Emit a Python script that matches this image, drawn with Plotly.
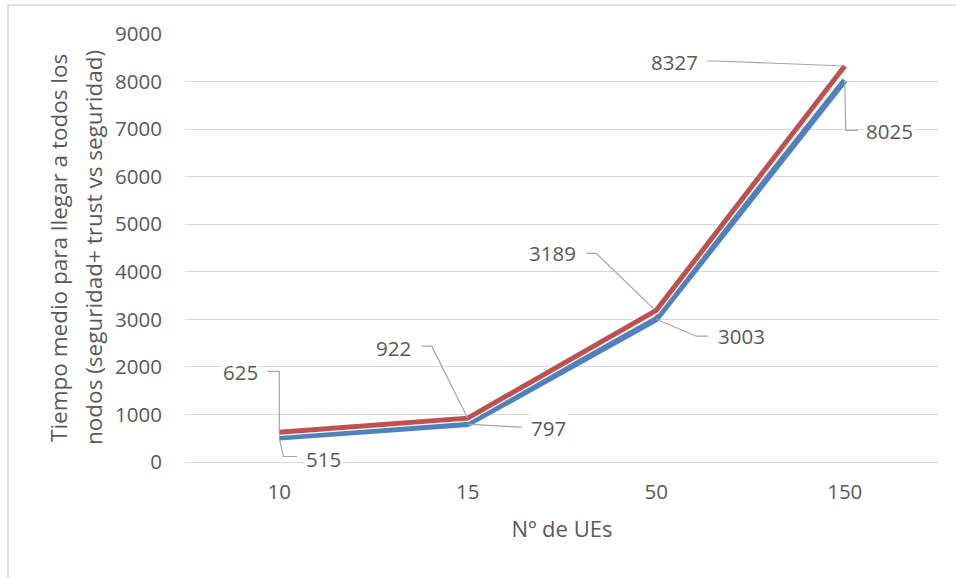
import plotly.graph_objects as go

categories = ["10", "15", "50", "150"]
seguridad = [515, 797, 3003, 8025]          # blue
seguridad_trust = [625, 922, 3189, 8327]    # red
y_ticks = [0, 1000, 2000, 3000, 4000, 5000, 6000, 7000, 8000, 9000]
y_title_lines = ["Tiempo medio para llegar a todos los",
                 "nodos (seguridad+ trust vs seguridad)"]
x_title = "Nº de UEs"

W, H = 956, 578
ML, MR, MT, MB = 185, 17, 34, 116
plot_w = W - ML - MR
plot_h = H - MT - MB
YMAX = 9000
x_idx = list(range(len(categories)))
px_per_x = plot_w / len(categories)
px_per_y = plot_h / YMAX
FS = 20.5
FS_TITLE = 22.5
TXT = "#595959"

def to_data(i, v, dx, dy):
    return i + dx / px_per_x, v - dy / px_per_y

# label placements (pixel offsets relative to data point): text centre, leader path
red_labels = [
    dict(t=(-39, -60), path=[(-12, -61), (0, -61), (0, 0)]),
    dict(t=(-74, -70), path=[(-46, -72), (-36, -72), (0, 0)]),
    dict(t=(-104, -57), path=[(-70, -57), (-60, -57), (-2, -1)]),
    dict(t=(-170, -4), path=[(-138, -5), (-128, -5), (0, 0)]),
]
blue_labels = [
    dict(t=(44, 21), path=[(0, 0), (4, 19), (18, 19)]),
    dict(t=(81, 4), path=[(0, 0), (52, 3), (54, 3)]),
    dict(t=(85, 17), path=[(0, 0), (40, 17), (52, 17)]),
    dict(t=(45, 51), path=[(0, 0), (1, 50), (13, 50)]),
]

fig = go.Figure()
fig.add_trace(go.Scatter(x=x_idx, y=seguridad, mode="lines",
                         line=dict(color="#4F81BD", width=6), hoverinfo="skip",
                         showlegend=False))
fig.add_trace(go.Scatter(x=x_idx, y=seguridad_trust, mode="lines",
                         line=dict(color="#FFFFFF", width=7.5), hoverinfo="skip",
                         showlegend=False))
fig.add_trace(go.Scatter(x=x_idx, y=seguridad_trust, mode="lines",
                         line=dict(color="#C0504D", width=5), hoverinfo="skip",
                         showlegend=False))

shapes = []
annotations = []
for series, labels in ((seguridad_trust, red_labels), (seguridad, blue_labels)):
    for i, (v, lab) in enumerate(zip(series, labels)):
        pts = [to_data(i, v, dx, dy) for dx, dy in lab["path"]]
        path = "M " + " L ".join(f"{x},{y}" for x, y in pts)
        shapes.append(dict(type="path", path=path, xref="x", yref="y",
                           line=dict(color="#A6A6A6", width=1.2), layer="above"))
        tx, ty = to_data(i, v, *lab["t"])
        annotations.append(dict(x=tx, y=ty, xref="x", yref="y", text=str(v),
                                showarrow=False, bgcolor="#FFFFFF",
                                font=dict(size=FS, color=TXT)))

# y-axis title as two rotated lines (wider line spacing than plotly's default)
for line_text, xpx in zip(y_title_lines, (58, 93)):
    annotations.append(dict(x=(xpx - ML) / plot_w, y=0.5, xref="paper", yref="paper",
                            text=line_text, textangle=-90, showarrow=False,
                            xanchor="center", yanchor="middle",
                            font=dict(size=FS_TITLE, color=TXT)))

# chart outer border (only left and top visible in the image)
shapes.append(dict(type="rect", xref="paper", yref="paper",
                   x0=(8 - ML) / plot_w, x1=(1000 - ML) / plot_w,
                   y0=-(640 - MT - plot_h) / plot_h, y1=1 + (MT - 5) / plot_h,
                   line=dict(color="#D9D9D9", width=1.5), layer="below"))

fig.update_layout(
    width=W, height=H,
    margin=dict(l=ML, r=MR, t=MT, b=MB),
    paper_bgcolor="white", plot_bgcolor="white",
    font=dict(family="Open Sans, sans-serif", color=TXT, size=FS),
    shapes=shapes, annotations=annotations,
    xaxis=dict(range=[-0.5, len(categories) - 0.5], tickvals=x_idx,
               ticktext=categories, showgrid=False, zeroline=False,
               showline=False, ticks="", tickfont=dict(size=FS, color=TXT),
               ticklabelstandoff=15,
               title=dict(text=x_title, font=dict(size=22, color=TXT),
                          standoff=18)),
    yaxis=dict(range=[0, YMAX], tickvals=y_ticks, showgrid=True,
               gridcolor="#D9D9D9", gridwidth=1.2, zeroline=True,
               zerolinecolor="#D9D9D9", zerolinewidth=1.2, showline=False,
               ticks="", tickfont=dict(size=FS, color=TXT),
               ticklabelstandoff=22),
)

fig.write_html("out.html")
